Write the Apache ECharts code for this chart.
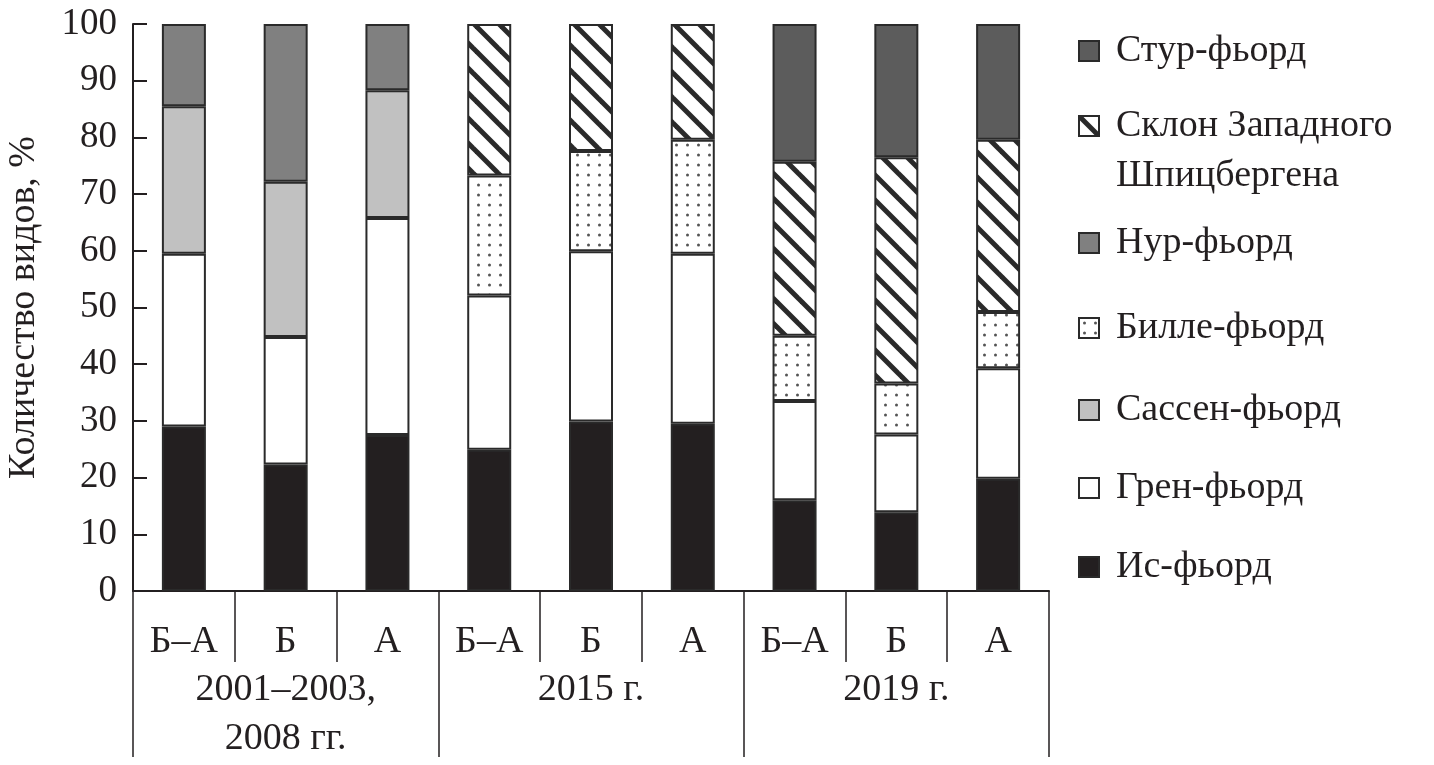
<!DOCTYPE html>
<html>
<head>
<meta charset="utf-8">
<title>Количество видов</title>
<script src="https://cdn.jsdelivr.net/npm/echarts@6/dist/echarts.min.js"></script>
<style>
  html, body { margin: 0; padding: 0; background: #fff; }
  #chart { width: 1434px; height: 765px; }
</style>
</head>
<body>
<div id="chart"></div>
<script>
// подписи по оси X
const categories = ['Б–А', 'Б', 'А', 'Б–А', 'Б', 'А', 'Б–А', 'Б', 'А']
const groups = ['2001–2003,\n2008 гг.', '2015 г.', '2019 г.']

// доли видов по районам, %
const isFjord = [29, 22.3, 27.5, 24.9, 29.9, 29.5, 16, 13.9, 19.8]
const grenFjord = [30.5, 22.5, 38.3, 27.2, 30, 30, 17.5, 13.7, 19.5]
const sassenFjord = [26, 27.4, 22.5, 0, 0, 0, 0, 0, 0]
const billeFjord = [0, 0, 0, 21.2, 17.7, 20.1, 11.5, 9, 9.9]
const nurFjord = [14.5, 27.8, 11.7, 0, 0, 0, 0, 0, 0]
const sklon = [0, 0, 0, 26.7, 22.4, 20.4, 30.7, 39.9, 30.4]
const sturFjord = [0, 0, 0, 0, 0, 0, 24.3, 23.5, 20.4]

const ink = '#231f20'
const font = 'Liberation Serif'
const fs = 38

// штриховка для склона
const makeHatch = () => {
  const s = 25
  const c = document.createElement('canvas')
  c.width = s
  c.height = s
  const ctx = c.getContext('2d')
  ctx.fillStyle = '#fff'
  ctx.fillRect(0, 0, s, s)
  ctx.strokeStyle = '#2a2a2a'
  ctx.lineWidth = 5
  for (let k = -1; k <= 1; k++) {
    ctx.beginPath()
    ctx.moveTo(k * s - 6, -6)
    ctx.lineTo(k * s + s + 6, s + 6)
    ctx.stroke()
  }
  return c
}
// точки для Билле-фьорда
const makeDots = () => {
  const c = document.createElement('canvas')
  c.width = 11
  c.height = 10
  const ctx = c.getContext('2d')
  ctx.fillStyle = '#fff'
  ctx.fillRect(0, 0, 11, 10)
  ctx.fillStyle = '#555'
  ctx.beginPath()
  ctx.arc(5.5, 5, 1.5, 0, Math.PI * 2)
  ctx.fill()
  return c
}

const seriesDefs = [
  { name: 'Ис-фьорд', data: isFjord, color: ink },
  { name: 'Грен-фьорд', data: grenFjord, color: '#ffffff' },
  { name: 'Сассен-фьорд', data: sassenFjord, color: '#c1c1c1' },
  { name: 'Билле-фьорд', data: billeFjord, color: { image: makeDots(), repeat: 'repeat' } },
  { name: 'Нур-фьорд', data: nurFjord, color: '#808080' },
  { name: 'Склон Западного Шпицбергена', data: sklon, color: { image: makeHatch(), repeat: 'repeat' } },
  { name: 'Стур-фьорд', data: sturFjord, color: '#5c5c5c' }
]

// положение пунктов легенды (центр значка по вертикали)
const legendRows = [
  ['Стур-фьорд', 51],
  ['Склон Западного Шпицбергена', 126],
  ['Нур-фьорд', 243],
  ['Билле-фьорд', 328],
  ['Сассен-фьорд', 410],
  ['Грен-фьорд', 488],
  ['Ис-фьорд', 567]
]

const lh = 50
const legends = legendRows.map(([name, cy]) => {
  const twoLines = name.startsWith('Склон')
  return {
    data: [name],
    left: 1078,
    top: twoLines ? cy - 10 - lh - 15 : cy - 10 - 15,
    orient: 'vertical',
    icon: 'rect',
    itemWidth: 20,
    itemHeight: 20,
    selectedMode: false,
    padding: 0,
    // первая строка подписи — на уровне значка
    formatter: twoLines ? () => ' \nСклон Западного\nШпицбергена' : '{name}',
    textStyle: {
      fontFamily: font,
      fontSize: fs,
      color: ink,
      lineHeight: lh,
      padding: [0, 0, 0, 12]
    }
  }
})

const myChart = echarts.init(document.getElementById('chart'))
const option = {
  animation: false,
  backgroundColor: '#fff',
  legend: legends,
  grid: { left: 133, right: 385, top: 24, bottom: 174, containLabel: false, outerBoundsMode: 'none' },
  xAxis: [
    {
      type: 'category',
      data: categories,
      position: 'bottom',
      axisLine: { show: true, lineStyle: { color: ink, width: 2 } },
      axisTick: { show: true, interval: 0, length: 71, lineStyle: { color: ink, width: 1.5 } },
      axisLabel: {
        interval: 0,
        margin: 27,
        fontFamily: font,
        fontSize: fs,
        color: ink,
        lineHeight: 48
      }
    },
    {
      type: 'category',
      data: groups,
      position: 'bottom',
      axisLine: { show: false },
      axisTick: { show: true, interval: 0, length: 166, lineStyle: { color: ink, width: 1.5 } },
      axisLabel: {
        interval: 0,
        margin: 75,
        fontFamily: font,
        fontSize: fs,
        color: ink,
        lineHeight: 49
      }
    }
  ],
  yAxis: {
    type: 'value',
    min: 0,
    max: 100,
    interval: 10,
    name: 'Количество видов, %',
    nameLocation: 'middle',
    nameRotate: 90,
    nameGap: 90,
    nameTextStyle: { fontFamily: font, fontSize: fs, color: ink },
    splitLine: { show: false },
    axisLine: { show: true, lineStyle: { color: ink, width: 2 } },
    axisTick: { show: true, inside: true, length: 14, lineStyle: { color: ink, width: 2 } },
    axisLabel: { margin: 16, fontFamily: font, fontSize: 37, color: ink }
  },
  series: seriesDefs.map((s) => ({
    name: s.name,
    type: 'bar',
    stack: 'all',
    barWidth: 44,
    xAxisIndex: 0,
    // нулевые доли не рисуем
    data: s.data.map((v) => (v === 0 ? null : v)),
    itemStyle: { color: s.color, borderColor: '#2a2a2a', borderWidth: 2 }
  }))
}
myChart.setOption(option)
</script>
</body>
</html>
